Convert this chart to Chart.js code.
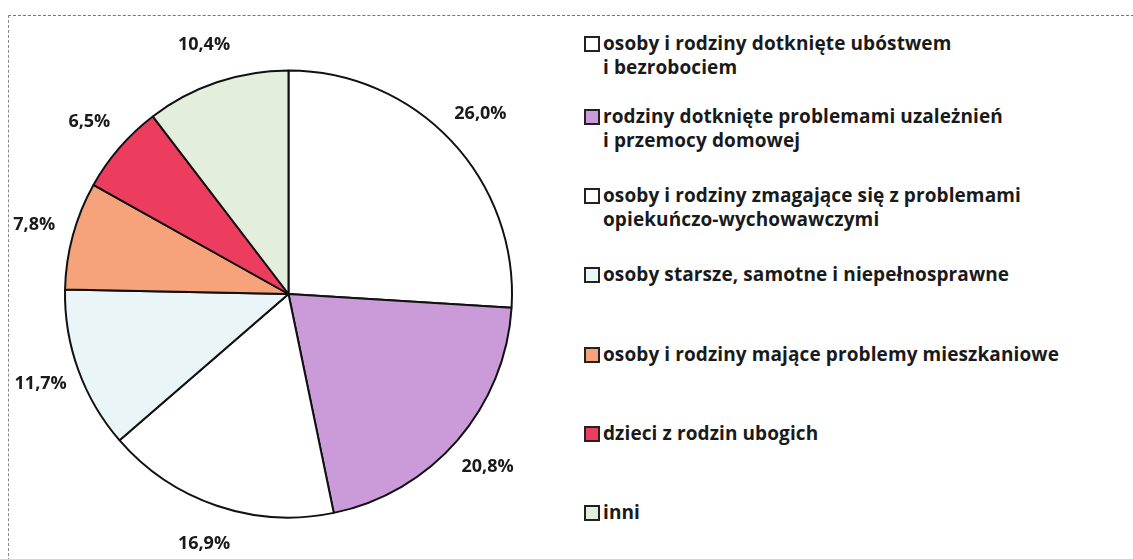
<!DOCTYPE html>
<html>
<head>
<meta charset="utf-8">
<script src="https://cdn.jsdelivr.net/npm/chart.js@4"></script>
<style>
  body { margin: 0; background: #fff; width: 1133px; height: 559px; overflow: hidden; position: relative; font-family: "Open Sans", sans-serif; }
  #frame { position: absolute; left: 8px; top: 15px; width: 1140px; height: 560px; border-left: 1px dashed #888; border-top: 1px dashed #777; }
  #pieBox { position: absolute; left: 0; top: 0; width: 575px; height: 559px; }
  #legend { position: absolute; left: 584px; top: 0; }
  .item { position: absolute; left: 0; white-space: nowrap; font-weight: 700; font-size: 19px; color: #1a1a1a; line-height: 24px; letter-spacing: 0.1px; }
  .box { position: absolute; left: 0; top: 5px; width: 12px; height: 12px; border: 2px solid #222; }
  .txt { position: absolute; left: 19px; top: 0; }
</style>
</head>
<body>
<div id="frame"></div>
<div id="pieBox"><canvas id="pie"></canvas></div>
<div id="legend"></div>
<script>
// categories (legend lines) and shares in percent
const categories = [
    ['osoby i rodziny dotknięte ubóstwem', 'i bezrobociem'],
    ['rodziny dotknięte problemami uzależnień', 'i przemocy domowej'],
    ['osoby i rodziny zmagające się z problemami', 'opiekuńczo-wychowawczymi'],
    ['osoby starsze, samotne i niepełnosprawne'],
    ['osoby i rodziny mające problemy mieszkaniowe'],
    ['dzieci z rodzin ubogich'],
    ['inni']
];
const shares = [26.0, 20.8, 16.9, 11.7, 7.8, 6.5, 10.4];
const shareLabels = ['26,0%', '20,8%', '16,9%', '11,7%', '7,8%', '6,5%', '10,4%'];
const colors = ['#ffffff', '#cb9ad8', '#ffffff', '#eaf5f8', '#f6a27a', '#ec3d5f', '#e4eedd'];
const legendTops = [31, 104, 183, 262, 342, 421, 500];

// build the legend
const legend = document.getElementById('legend');
categories.forEach((lines, i) => {
    const item = document.createElement('div');
    item.className = 'item';
    item.style.top = legendTops[i] + 'px';
    item.innerHTML = `<div class="box" style="background:${colors[i]}"></div><div class="txt">${lines.join('<br>')}</div>`;
    legend.appendChild(item);
});

// percent labels outside the slices
const outsideLabels = {
    id: 'outsideLabels',
    afterDatasetsDraw(chart) {
        const ctx = chart.ctx;
        const meta = chart.getDatasetMeta(0);
        ctx.save();
        ctx.font = 'bold 18px "Open Sans"';
        ctx.fillStyle = '#1a1a1a';
        ctx.textAlign = 'center';
        ctx.textBaseline = 'middle';
        meta.data.forEach((arc, i) => {
            const p = arc.getProps(['x', 'y', 'startAngle', 'endAngle', 'outerRadius'], true);
            const mid = (p.startAngle + p.endAngle) / 2;
            const r = p.outerRadius + 40;
            ctx.fillText(shareLabels[i], p.x + Math.cos(mid) * r, p.y + Math.sin(mid) * r);
        });
        ctx.restore();
    }
};

const ctx = document.getElementById('pie').getContext('2d');
const myPieChart = new Chart(ctx, {
    type: 'pie',
    data: {
        labels: categories.map(l => l.join(' ')),
        datasets: [{
            data: shares,
            backgroundColor: colors,
            borderColor: '#111',
            borderWidth: 2
        }]
    },
    options: {
        responsive: true,
        maintainAspectRatio: false,
        animation: false,
        layout: { padding: { left: 64, right: 62, top: 66, bottom: 37 } },
        plugins: {
            legend: { display: false },
            tooltip: { enabled: false }
        }
    },
    plugins: [outsideLabels]
});
</script>
</body>
</html>
